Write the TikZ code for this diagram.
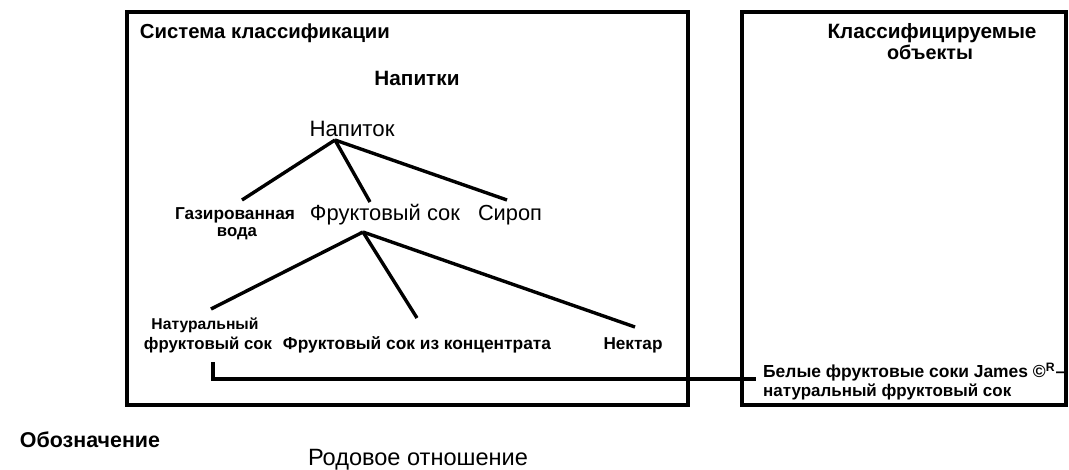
\documentclass[tikz,border=0pt]{standalone}
\usepackage{fontspec}
\setmainfont{Liberation Sans}
\usepackage{graphicx}
\newcommand{\fw}[2]{\resizebox{#1pt}{!}{#2}}
\begin{document}
\begin{tikzpicture}[x=1pt,y=-1pt,
  frame/.style={draw, line width=3.2pt, minimum height=393pt, inner sep=0pt},
  lbl/.style={inner sep=0pt, font=\bfseries},
  lblr/.style={inner sep=0pt},
  branch/.style={line width=3.4pt},
  link/.style={line width=4pt}]
\useasboundingbox (0,0) rectangle (1069,469);
% frames
\node[frame, minimum width=561pt] (sys) at (407.5,208.5) {};
\node[frame, minimum width=324pt] (obj) at (904,208.5) {};
% texts
\node[lbl] (systitle) at (265,33) {\fw{250}{Система классификации}};
\node[lbl] (napitki) at (417,78) {\fw{85}{Напитки}};
\node[lblr] (napitok) at (352,129) {\fw{85}{Напиток}};
\node[lbl] (gaz1) at (235,215) {\fw{120}{Газированная}};
\node[lbl] (gaz2) at (237,234) {\fw{40}{вода}};
\node[lblr] (fruk) at (385,215) {\fw{150}{Фруктовый сок}};
\node[lblr] (sirop) at (510,215) {\fw{64}{Сироп}};
\node[lbl] (nat1) at (205,325) {\fw{107}{Натуральный}};
\node[lbl] (nat2) at (208,345) {\fw{128}{фруктовый сок}};
\node[lbl] (konc) at (417,345) {\fw{268}{Фруктовый сок из концентрата}};
\node[lbl] (nektar) at (633,345) {\fw{59}{Нектар}};
\node[lbl] (klass1) at (932,33) {\fw{209}{Классифицируемые}};
\node[lbl] (klass2) at (930,52) {\fw{86}{объекты}};
\node[lbl, anchor=west] (bel1) at (763,372) {\fw{302}{Белые фруктовые соки James ©\textsuperscript{R}–}};
\node[lbl, anchor=west] (bel2) at (763,392) {\fw{248}{натуральный фруктовый сок}};
\node[lbl] (oboz) at (90,440) {\fw{140}{Обозначение}};
\node[lblr] (rod) at (418,460) {\fw{220}{Родовое отношение}};
% connector points
\coordinate (napB) at (335,140);
\coordinate (gazT) at (242,200);
\coordinate (frukT) at (370,202);
\coordinate (sirT) at (507,200);
\coordinate (frukB) at (363,232);
\coordinate (natT) at (211,309);
\coordinate (koncT) at (417,318);
\coordinate (nekT) at (635,327);
\coordinate (natB) at (213,362);
\coordinate (belL) at (756,379);
% tree
\draw[branch] (napB) -- (gazT);
\draw[branch] (napB) -- (frukT);
\draw[branch] (napB) -- (sirT);
\draw[branch] (frukB) -- (natT);
\draw[branch] (frukB) -- (koncT);
\draw[branch] (frukB) -- (nekT);
% link
\draw[link] (natB) |- (belL);
\end{tikzpicture}
\end{document}
